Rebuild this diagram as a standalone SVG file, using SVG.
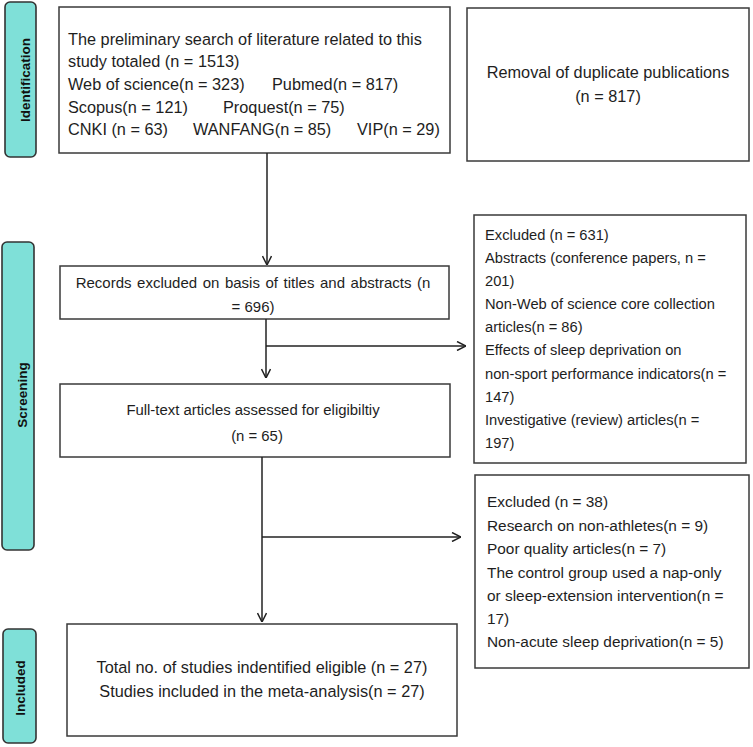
<svg xmlns="http://www.w3.org/2000/svg" width="753" height="747" viewBox="0 0 753 747">
<defs>
<style>
.box{fill:#fff;stroke:#3a3a3a;stroke-width:1.5}
.tab{fill:#7fe0d8;stroke:#333;stroke-width:1.6}
.t{font-family:"Liberation Sans",Arial,sans-serif;font-size:16.3px;fill:#1e1e1e}
.s1{font-size:14.7px}
.s2{font-size:15.4px}
.s3{font-size:14.9px}
.c{text-anchor:middle}
.tt{font-family:"Liberation Sans",Arial,sans-serif;font-size:13.5px;font-weight:bold;fill:#111;text-anchor:middle}
.ln{stroke:#222;stroke-width:1.5;fill:none}
</style>
<marker id="ah" viewBox="0 0 10 10" refX="10" refY="5" markerWidth="10" markerHeight="10" markerUnits="userSpaceOnUse" orient="auto">
<path d="M1,0.5 L10,5 L1,9.5" fill="none" stroke="#222" stroke-width="1.5"/>
</marker>
</defs>
<rect width="753" height="747" fill="#fff"/>

<g id="tab-identification">
<rect class="tab" x="5" y="2" width="31" height="155" rx="5"/>
<text class="tt" transform="translate(30,80) rotate(-90)">Identification</text>
</g>
<g id="tab-screening">
<rect class="tab" x="2" y="242" width="32" height="308" rx="5"/>
<text class="tt" transform="translate(27,395) rotate(-90)">Screening</text>
</g>
<g id="tab-included">
<rect class="tab" x="3" y="629" width="33" height="114" rx="5"/>
<text class="tt" transform="translate(25,688) rotate(-90)">Included</text>
</g>

<g id="search">
<rect class="box" x="59" y="7" width="391" height="146"/>
<text class="t" x="68" y="45">The preliminary search of literature related to this</text>
<text class="t" x="68" y="67">study totaled (n = 1513)</text>
<text class="t" y="90"><tspan x="68">Web of science(n = 323)</tspan><tspan x="272">Pubmed(n = 817)</tspan></text>
<text class="t" y="113"><tspan x="68">Scopus(n = 121)</tspan><tspan x="223">Proquest(n = 75)</tspan></text>
<text class="t" y="135"><tspan x="68">CNKI (n = 63)</tspan><tspan x="193">WANFANG(n = 85)</tspan><tspan x="357">VIP(n = 29)</tspan></text>
</g>

<g id="duplicates">
<rect class="box" x="467" y="8" width="282" height="153"/>
<text class="t c" x="608" y="78">Removal of duplicate publications</text>
<text class="t c" x="608" y="102">(n = 817)</text>
</g>

<g id="records">
<rect class="box" x="60" y="266" width="389" height="53"/>
<text class="t c" x="253" y="288" style="font-size:15px" word-spacing="1.4">Records excluded on basis of titles and abstracts (n</text>
<text class="t c" x="253" y="312" style="font-size:15px">= 696)</text>
</g>

<g id="excluded1">
<rect class="box" x="474" y="215" width="272" height="248"/>
<text class="t s1" x="485" y="240">Excluded (n = 631)</text>
<text class="t s1" x="485" y="263">Abstracts (conference papers, n =</text>
<text class="t s1" x="485" y="286">201)</text>
<text class="t s1" x="485" y="309">Non-Web of science core collection</text>
<text class="t s1" x="485" y="332">articles(n = 86)</text>
<text class="t s1" x="485" y="355">Effects of sleep deprivation on</text>
<text class="t s1" x="485" y="379">non-sport performance indicators(n =</text>
<text class="t s1" x="485" y="402">147)</text>
<text class="t s1" x="485" y="425">Investigative (review) articles(n =</text>
<text class="t s1" x="485" y="448">197)</text>
</g>

<g id="fulltext">
<rect class="box" x="60" y="384" width="390" height="73"/>
<text class="t c s3" x="253" y="415">Full-text articles assessed for eligibiltiy</text>
<text class="t c s3" x="257" y="441">(n = 65)</text>
</g>

<g id="excluded2">
<rect class="box" x="475" y="475" width="274" height="193"/>
<text class="t s2" x="487" y="507">Excluded (n = 38)</text>
<text class="t s2" x="487" y="531">Research on non-athletes(n = 9)</text>
<text class="t s2" x="487" y="554">Poor quality articles(n = 7)</text>
<text class="t s2" x="487" y="578">The control group used a nap-only</text>
<text class="t s2" x="487" y="601">or sleep-extension intervention(n =</text>
<text class="t s2" x="487" y="624">17)</text>
<text class="t s2" x="487" y="647">Non-acute sleep deprivation(n = 5)</text>
</g>

<g id="included">
<rect class="box" x="67" y="624" width="390" height="112"/>
<text class="t c" x="262" y="673">Total no. of studies indentified eligible (n = 27)</text>
<text class="t c" x="262" y="697">Studies included in the meta-analysis(n = 27)</text>
</g>

<g id="connectors">
<path class="ln" d="M267,153 V265" marker-end="url(#ah)"/>
<path class="ln" d="M266,319 V378" marker-end="url(#ah)"/>
<path class="ln" d="M266,346 H466" marker-end="url(#ah)"/>
<path class="ln" d="M262,457 V622" marker-end="url(#ah)"/>
<path class="ln" d="M262,537 H461" marker-end="url(#ah)"/>
</g>
</svg>
